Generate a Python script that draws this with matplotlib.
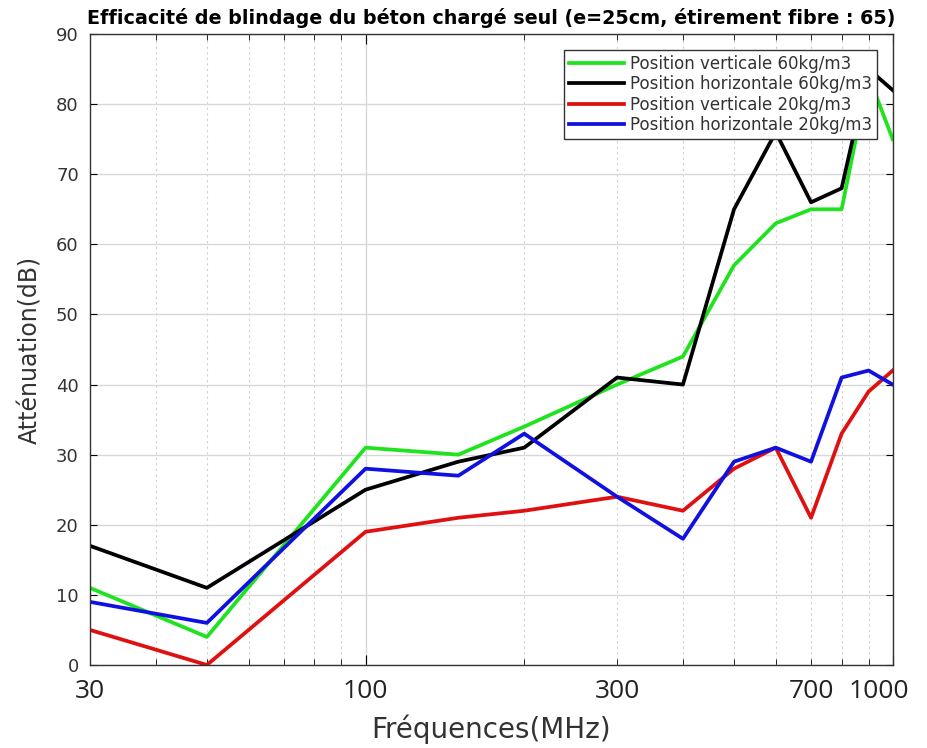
import numpy as np
import matplotlib
matplotlib.use("Agg")
import matplotlib.pyplot as plt
from matplotlib.ticker import FixedLocator, NullFormatter

# frequencies (MHz)
freq = [30, 50, 100, 150, 200, 300, 400, 500, 600, 700, 800, 900, 1000]

vert60 = [11, 4, 31, 30, 34, 40, 44, 57, 63, 65, 65, 84, 75]
horiz60 = [17, 11, 25, 29, 31, 41, 40, 65, 76, 66, 68, 85, 82]
vert20 = [5, 0, 19, 21, 22, 24, 22, 28, 31, 21, 33, 39, 42]
horiz20 = [9, 6, 28, 27, 33, 24, 18, 29, 31, 29, 41, 42, 40]

labels = ["Position verticale 60kg/m3", "Position horizontale 60kg/m3",
          "Position verticale 20kg/m3", "Position horizontale 20kg/m3"]
colors = ["#1fe31f", "#000000", "#e01010", "#1010e0"]

xtick_vals = [30, 100, 300, 700, 1000]
xtick_labels = ["30", "100", "300", "700", "1000"]

fig = plt.figure(figsize=(9.27, 7.48), dpi=100)
ax = fig.add_axes([0.097, 0.111, 0.866, 0.8435])

for yv, lab, c in zip([vert60, horiz60, vert20, horiz20], labels, colors):
    ax.plot(freq, yv, color=c, lw=2.7, label=lab)

ax.set_xscale("log")
ax.set_xlim(30, 1000)
ax.set_ylim(0, 90)

# major = 100, 1000 (solid grid); minor = the rest (dotted grid)
ax.set_xticks([100, 1000])
ax.set_xticklabels([])
minors = [40, 50, 60, 70, 80, 90, 200, 300, 400, 500, 600, 700, 800, 900]
ax.xaxis.set_minor_locator(FixedLocator(minors))
ax.xaxis.set_minor_formatter(NullFormatter())

ax.set_yticks(np.arange(0, 91, 10))
ax.tick_params(axis="y", labelsize=13, labelcolor="#333333", direction="in",
               right=True, length=5, pad=8)
ax.tick_params(axis="x", which="both", direction="in", top=True, labelbottom=False)
ax.tick_params(axis="x", which="major", length=7)
ax.tick_params(axis="x", which="minor", length=4)

ax.grid(True, axis="y", color="#d8d8d8", lw=1)
ax.grid(True, axis="x", which="major", color="#d8d8d8", lw=1)
ax.grid(True, axis="x", which="minor", color="#d0d0d0", lw=0.8, ls=(0, (2, 3)))
ax.set_axisbelow(True)

# x tick labels drawn as text through the axis transform
offsets = {1000: -10}
for v, t in zip(xtick_vals, xtick_labels):
    ax.annotate(t, xy=(v, 0), xycoords=ax.get_xaxis_transform(),
                xytext=(offsets.get(v, 0), -10), textcoords="offset points",
                ha="center", va="top", fontsize=19,
                family=["Open Sans", "DejaVu Sans"], color="#222222")

for s in ax.spines.values():
    s.set_color("#333333")
    s.set_linewidth(1)

ax.set_xlabel("Fréquences(MHz)", fontsize=20, color="#333333", labelpad=36)
ax.set_ylabel("Atténuation(dB)", fontsize=17, color="#333333", labelpad=10)
ax.set_title("Efficacité de blindage du béton chargé seul (e=25cm, étirement fibre : 65)",
             fontsize=13.8, fontweight="bold", pad=7)

leg = ax.legend(loc="upper right", bbox_to_anchor=(0.981, 0.975), fontsize=12,
                handlelength=3.3, handletextpad=0.4, borderpad=0.3,
                labelspacing=0.15, borderaxespad=0, fancybox=False, framealpha=1)
leg.get_frame().set_edgecolor("#333333")
leg.get_frame().set_linewidth(1)
for t in leg.get_texts():
    t.set_color("#333333")

fig.savefig("out.png", dpi=100)
